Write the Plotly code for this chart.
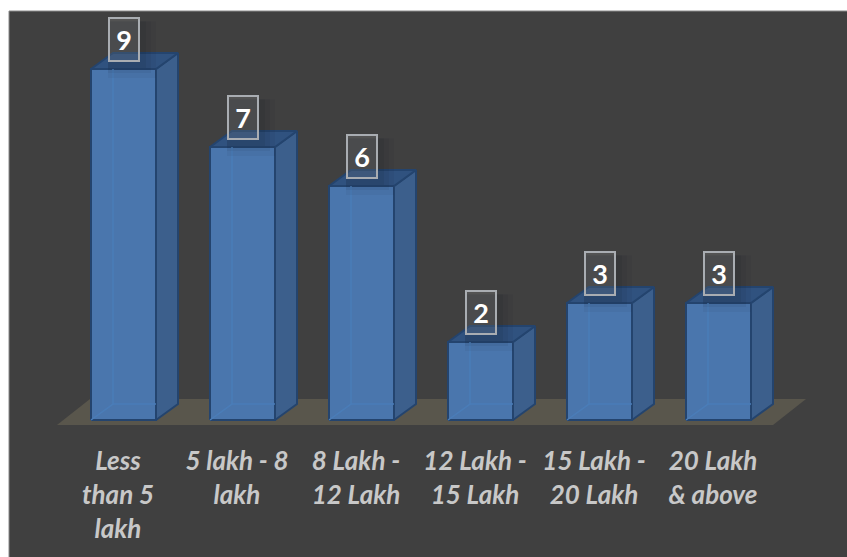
import plotly.graph_objects as go

categories = ["Less<br>than 5<br>lakh", "5 lakh - 8<br>lakh", "8 Lakh -<br>12 Lakh",
              "12 Lakh -<br>15 Lakh", "15 Lakh -<br>20 Lakh", "20 Lakh<br>&amp; above"]
values = [9, 7, 6, 2, 3, 3]

W, H = 847, 557
PL, PT, PB = 9, 11, 430            # plot area edges in page pixels
X0, DX, BASE, UNIT = 123.5, 119.0, 420.0, 39.0   # scale anchors in page pixels
xr = [(PL - X0) / DX, (W - X0) / DX]
yr = [(BASE - PB) / UNIT, (BASE - PT) / UNIT]

HALF = 32.5 / DX                   # half bar width
DEP_X, DEP_Y = 22 / DX, 16 / UNIT  # depth of the extrusion
FLOOR_L, FLOOR_R = (57 - X0) / DX, (773 - X0) / DX

FRONT, SIDE, TOP, EDGE, INNER = "#4a76ad", "#3c5f8c", "#30527f", "#24446e", "#4a7db8"
BG, FLOOR = "#404040", "#59564c"

fig = go.Figure()


def poly(xs, ys, fill, line=EDGE, width=2):
    fig.add_trace(go.Scatter(x=xs + xs[:1], y=ys + ys[:1], mode="lines", fill="toself",
                             fillcolor=fill, line=dict(color=line, width=width),
                             hoverinfo="skip", showlegend=False, cliponaxis=False))


def edge(xs, ys):
    fig.add_trace(go.Scatter(x=xs, y=ys, mode="lines", line=dict(color=INNER, width=1.5),
                             hoverinfo="skip", showlegend=False, cliponaxis=False))


# floor
poly([FLOOR_L, FLOOR_L + 33 / DX, FLOOR_R + 33 / DX, FLOOR_R],
     [-5 / UNIT, 21 / UNIT, 21 / UNIT, -5 / UNIT],
     FLOOR, line=FLOOR, width=0)

for i, v in enumerate(values):
    l, r = i - HALF, i + HALF
    # side
    poly([r, r + DEP_X, r + DEP_X, r], [0, DEP_Y, v + DEP_Y, v], SIDE)
    # top
    poly([l, l + DEP_X, r + DEP_X, r], [v, v + DEP_Y, v + DEP_Y, v], TOP)
    # front
    poly([l, r, r, l], [0, 0, v, v], FRONT)
    # hidden back edges, faintly visible through the front face
    edge([l, l + DEP_X, l + DEP_X], [0, DEP_Y, v])
    edge([l + DEP_X, r], [DEP_Y, DEP_Y])

annotations = []
shapes = [dict(type="rect", xref="paper", yref="paper", layer="below",
               x0=0, x1=1.01, y0=(PB - H - 8) / (PB - PT), y1=1,
               fillcolor=BG, line=dict(color="#8a8a8a", width=1))]

for i, v in enumerate(values):
    cx = i + 0.5 / DX
    cy = v + 29.5 / UNIT
    # soft shadow of the label box
    for grow, a in ((16, 0.05), (11, 0.06), (6, 0.07)):
        shapes.append(dict(type="rect", xref="x", yref="y", layer="above",
                           x0=cx - 16 / DX, x1=cx + (16 + grow) / DX,
                           y0=cy - (22.5 + grow) / UNIT, y1=cy + 18 / UNIT,
                           fillcolor=f"rgba(20,25,35,{a})", line=dict(width=0)))
    annotations.append(dict(x=cx, y=cy, xref="x", yref="y", text=f"<b>{v}</b>", showarrow=False,
                            width=28, height=41, bgcolor="rgba(255,255,255,0.10)",
                            bordercolor="#a9adb2", borderwidth=2, borderpad=0, valign="middle",
                            font=dict(family="Lato, Open Sans, sans-serif", size=27, color="white")))

ticktext = [f'<span style="font-size:26px">{c}</span>' for c in categories]

fig.update_layout(
    width=W, height=H, autosize=False,
    margin=dict(l=PL, r=0, t=PT, b=H - PB, pad=0),
    paper_bgcolor="white", plot_bgcolor=BG, showlegend=False,
    shapes=shapes, annotations=annotations,
    xaxis=dict(range=xr, showgrid=False, zeroline=False, showline=False,
               tickmode="array", tickvals=[i - 5.5 / DX for i in range(len(categories))],
               ticktext=ticktext, tickangle=0, ticks="outside", ticklen=8, tickcolor="rgba(0,0,0,0)",
               automargin=False,
               tickfont=dict(family="Lato, Open Sans, sans-serif", size=26, color="#c8c8c8",
                             weight="bold", style="italic")),
    yaxis=dict(range=yr, showgrid=False, zeroline=False, showline=False, showticklabels=False,
               automargin=False),
)

fig.write_html("out.html", default_width="847px", default_height="557px",
               config={"displayModeBar": False},
               post_script="document.body.style.margin='0';")
